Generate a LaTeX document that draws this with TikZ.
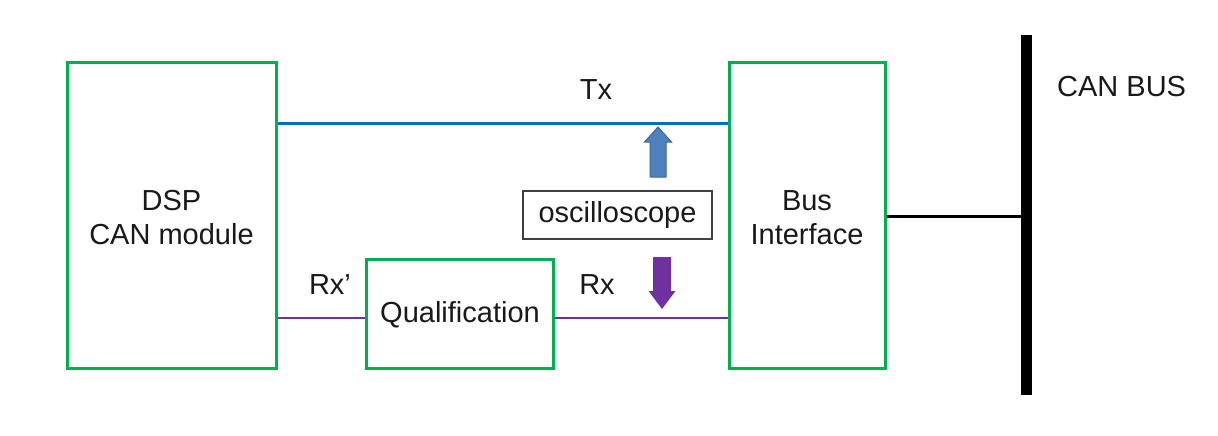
\documentclass[tikz,border=0pt]{standalone}
\usepackage{fontspec}
\setmainfont{Liberation Sans}
\definecolor{boxgreen}{HTML}{00B050}
\definecolor{txblue}{HTML}{0070C0}
\definecolor{rxpurple}{HTML}{7030A0}
\definecolor{arrblue}{HTML}{4F81BD}
\definecolor{arrblueline}{HTML}{3A679C}
\definecolor{arrpurple}{HTML}{7030A0}
\begin{document}
\begin{tikzpicture}[x=1pt,y=-1pt,
  blk/.style={draw=boxgreen,line width=3pt,fill=white},
  lbl/.style={font=\fontsize{29}{34}\selectfont,align=center,text=black!90,inner sep=0pt},
]
\useasboundingbox (0,0) rectangle (1218,436);
% boxes
\draw[blk] (67,63) rectangle (276,368);
\node[lbl] (dsp) at (171.5,218) {DSP\\CAN module};
\draw[blk] (729,63) rectangle (885,368);
\node[lbl] (bif) at (807,218) {Bus\\Interface};
\draw[blk] (366,259) rectangle (553,368);
\node[lbl] (qual) at (460,315) {Qualification};
% coordinates
\coordinate (dspTx) at (277.5,123);
\coordinate (bifTx) at (727.5,123);
\coordinate (dspRx) at (277.5,318);
\coordinate (qualL) at (364.5,318);
\coordinate (qualR) at (554.5,318);
\coordinate (bifRx) at (727.5,318);
\coordinate (bifBus) at (886.5,216);
\coordinate (busTop) at (1026,35);
\coordinate (busBot) at (1026,395);
\coordinate (busMid) at (1021,216);
% lines
\draw[txblue,line width=3pt] (dspTx) -- (bifTx);
\draw[rxpurple,line width=2.5pt] (dspRx) -- (qualL);
\draw[rxpurple,line width=2.5pt] (qualR) -- (bifRx);
\draw[black,line width=11pt] (busTop) -- (busBot);
\draw[black,line width=3pt] (bifBus) -- (busMid);
% labels
\node[lbl] (tx) at (596,90) {Tx};
\node[lbl] (rxp) at (330,285) {Rx’};
\node[lbl] (rx) at (597,285) {Rx};
\node[lbl,anchor=west] (canbus) at (1057,87) {CAN BUS};
% oscilloscope
\node[draw=black!75,line width=1.2pt,minimum width=189pt,minimum height=48pt,lbl] (osc) at (617.5,215) {oscilloscope};
% block arrows
\filldraw[fill=arrblue,draw=arrblueline,line width=1pt]
  (658,127) -- (671.5,142) -- (666,142) -- (666,177) -- (650,177) -- (650,142) -- (644.5,142) -- cycle;
\fill[arrpurple]
  (662,309) -- (675.5,291) -- (671,291) -- (671,257) -- (653,257) -- (653,291) -- (648.5,291) -- cycle;
\end{tikzpicture}
\end{document}
